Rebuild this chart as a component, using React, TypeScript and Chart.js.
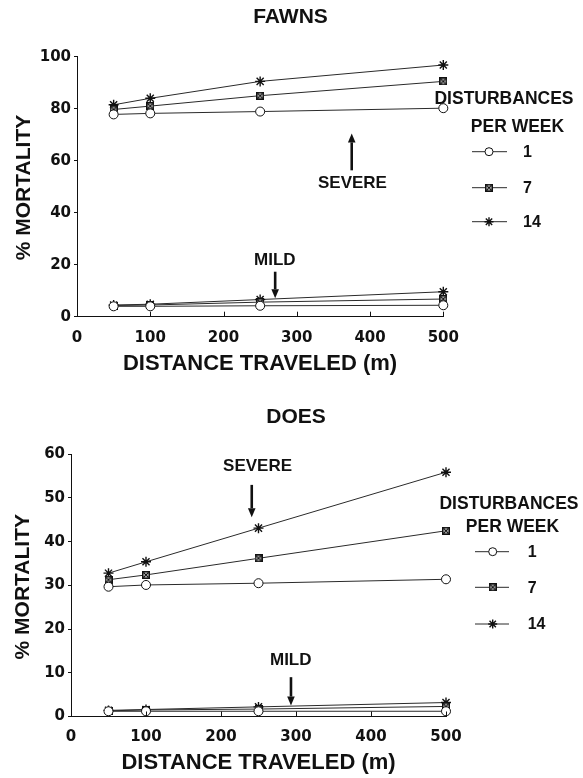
import React, { useEffect, useRef } from 'react';
import { Chart, registerables } from 'chart.js';

Chart.register(...registerables);

// ---------- data ----------
const distances = [50, 100, 250, 500];
const xTickValues = [0, 100, 200, 300, 400, 500];
const legendLabels = ['1', '7', '14'];

const fawnsSevere1 = [77.8, 78.2, 78.9, 80.2];
const fawnsSevere7 = [79.7, 81.0, 85.0, 90.5];
const fawnsSevere14 = [81.5, 84.0, 90.5, 96.8];
const fawnsMild1 = [4.0, 4.0, 4.2, 4.4];
const fawnsMild7 = [4.3, 4.5, 5.6, 6.8];
const fawnsMild14 = [4.5, 4.8, 6.6, 9.6];

const doesSevere1 = [29.7, 30.1, 30.5, 31.4];
const doesSevere7 = [31.3, 32.4, 36.2, 42.5];
const doesSevere14 = [32.8, 35.4, 43.1, 55.9];
const doesMild1 = [1.2, 1.2, 1.2, 1.2];
const doesMild7 = [1.3, 1.5, 1.7, 2.3];
const doesMild14 = [1.4, 1.6, 2.2, 3.2];

// ---------- layout / style ----------
const W = 583;
const FONT = '"Liberation Sans", Arial, Helvetica, sans-serif';
const TICKFONT = '"DejaVu Sans", "Liberation Sans", Arial, sans-serif';
const INK = '#111';
const LINE = '#2a2a2a';

const fawnsSpec = {
  title: 'FAWNS',
  height: 390,
  area: { left: 77, right: 443.3, top: 56.7, bottom: 316.7 },
  yMax: 100,
  yStep: 20,
  severe: [fawnsSevere1, fawnsSevere7, fawnsSevere14],
  mild: [fawnsMild1, fawnsMild7, fawnsMild14],
  titleXY: [290.5, 17.5],
  yTitleXY: [24, 187.5],
  xTitleXY: [260, 364],
  legend: { headX: 504, headY: 99.3, subX: 517.5, subY: 126.7, x1: 472, x2: 507, mx: 489, rows: [151.7, 187.7, 221.7], labelX: 523 },
  notes: [
    { text: 'SEVERE', x: 376, y: 51.2 },
    { text: 'MILD', x: 270, y: 21.7 },
  ],
  arrows: [
    { x: 375, from: 56.3, to: 70.5 },
    { x: 270.5, from: 17.3, to: 7.1 },
  ],
};

const doesSpec = {
  title: 'DOES',
  height: 388,
  area: { left: 71, right: 446, top: 64.3, bottom: 326.5 },
  yMax: 60,
  yStep: 10,
  severe: [doesSevere1, doesSevere7, doesSevere14],
  mild: [doesMild1, doesMild7, doesMild14],
  titleXY: [296, 27],
  yTitleXY: [23, 196.7],
  xTitleXY: [258.5, 373.3],
  legend: { headX: 509, headY: 114, subX: 512.5, subY: 136.7, x1: 475, x2: 509, mx: 492.7, rows: [161.7, 197.3, 234], labelX: 527.7 },
  notes: [
    { text: 'SEVERE', x: 248.7, y: 57.2 },
    { text: 'MILD', x: 293, y: 12.9 },
  ],
  arrows: [
    { x: 241, from: 53, to: 45.6 },
    { x: 293.3, from: 9, to: 2.5 },
  ],
};

function makeBoxX(size: number) {
  const c = document.createElement('canvas');
  c.width = size;
  c.height = size;
  const ctx = c.getContext('2d')!;
  ctx.fillStyle = '#fff';
  ctx.fillRect(0, 0, size, size);
  ctx.strokeStyle = INK;
  ctx.lineWidth = 1.6;
  ctx.strokeRect(0.8, 0.8, size - 1.6, size - 1.6);
  ctx.lineWidth = 1.2;
  ctx.beginPath();
  ctx.moveTo(1.5, 1.5);
  ctx.lineTo(size - 1.5, size - 1.5);
  ctx.moveTo(size - 1.5, 1.5);
  ctx.lineTo(1.5, size - 1.5);
  ctx.stroke();
  return c;
}

function drawStar(ctx: CanvasRenderingContext2D, x: number, y: number, r: number) {
  ctx.beginPath();
  for (let i = 0; i < 4; i++) {
    const a = (i * Math.PI) / 4;
    ctx.moveTo(x + Math.cos(a) * r, y + Math.sin(a) * r);
    ctx.lineTo(x - Math.cos(a) * r, y - Math.sin(a) * r);
  }
  ctx.stroke();
}

function buildConfig(spec: any) {
  const box = makeBoxX(8);
  const styles = [
    { pointStyle: 'circle', pointRadius: 4.5, pointBorderWidth: 1 },
    { pointStyle: box, pointRadius: 4, pointBorderWidth: 1 },
    { pointStyle: 'star', pointRadius: 5, pointBorderWidth: 1.4 },
  ];
  const datasets: any[] = [];
  ['severe', 'mild'].forEach((grp) => {
    spec[grp].forEach((vals: number[], i: number) => {
      datasets.push({
        label: legendLabels[i] + ' ' + grp,
        data: distances.map((d, k) => ({ x: d, y: vals[k] })),
        borderColor: LINE,
        borderWidth: 1,
        backgroundColor: '#fff',
        pointBackgroundColor: '#fff',
        pointBorderColor: INK,
        clip: false,
        ...styles[i],
      });
    });
  });

  const a = spec.area;
  const H = spec.height;

  const decor = {
    id: 'decor',
    afterDraw(chart: any) {
      const ctx: CanvasRenderingContext2D = chart.ctx;
      const xs = chart.scales.x;
      const ys = chart.scales.y;
      ctx.save();
      ctx.fillStyle = INK;
      ctx.strokeStyle = INK;
      ctx.textAlign = 'center';
      ctx.textBaseline = 'middle';

      // inward x ticks
      ctx.lineWidth = 1;
      ctx.beginPath();
      xTickValues.forEach((v) => {
        if (v === 0) return;
        const px = Math.round(xs.getPixelForValue(v)) + 0.5;
        ctx.moveTo(px, ys.bottom);
        ctx.lineTo(px, ys.bottom - 5);
      });
      ctx.stroke();

      // title
      ctx.font = `bold 21px ${FONT}`;
      ctx.fillText(spec.title, spec.titleXY[0], spec.titleXY[1]);

      // axis titles
      ctx.font = `bold 22px ${FONT}`;
      ctx.fillText('DISTANCE TRAVELED (m)', spec.xTitleXY[0], spec.xTitleXY[1]);
      ctx.font = `bold 21px ${FONT}`;
      ctx.save();
      ctx.translate(spec.yTitleXY[0], spec.yTitleXY[1]);
      ctx.rotate(-Math.PI / 2);
      ctx.fillText('% MORTALITY', 0, 0);
      ctx.restore();

      // annotations
      ctx.font = `bold 17px ${FONT}`;
      spec.notes.forEach((n: any) => {
        ctx.fillText(n.text, xs.getPixelForValue(n.x), ys.getPixelForValue(n.y));
      });
      spec.arrows.forEach((ar: any) => {
        const px = xs.getPixelForValue(ar.x);
        const yTail = ys.getPixelForValue(ar.from);
        const yTip = ys.getPixelForValue(ar.to);
        const dir = yTip > yTail ? 1 : -1;
        const head = 9;
        ctx.lineWidth = 2.6;
        ctx.beginPath();
        ctx.moveTo(px, yTail);
        ctx.lineTo(px, yTip - dir * head);
        ctx.stroke();
        ctx.beginPath();
        ctx.moveTo(px, yTip);
        ctx.lineTo(px - 3.8, yTip - dir * head);
        ctx.lineTo(px + 3.8, yTip - dir * head);
        ctx.closePath();
        ctx.fill();
      });

      // legend
      const L = spec.legend;
      ctx.font = `bold 17.5px ${FONT}`;
      ctx.fillText('DISTURBANCES', L.headX, L.headY);
      ctx.fillText('PER WEEK', L.subX, L.subY);
      ctx.font = `bold 16px ${FONT}`;
      L.rows.forEach((ry: number, i: number) => {
        ctx.strokeStyle = LINE;
        ctx.lineWidth = 1;
        ctx.beginPath();
        ctx.moveTo(L.x1, ry);
        ctx.lineTo(L.x2, ry);
        ctx.stroke();
        ctx.strokeStyle = INK;
        if (i === 0) {
          ctx.fillStyle = '#fff';
          ctx.beginPath();
          ctx.arc(L.mx, ry, 4, 0, Math.PI * 2);
          ctx.fill();
          ctx.stroke();
        } else if (i === 1) {
          ctx.drawImage(box, L.mx - 4, ry - 4);
        } else {
          ctx.lineWidth = 1.4;
          drawStar(ctx, L.mx, ry, 4.5);
        }
        ctx.fillStyle = INK;
        ctx.textAlign = 'left';
        ctx.fillText(legendLabels[i], L.labelX, ry + 1);
        ctx.textAlign = 'center';
      });
      ctx.restore();
    },
  };

  return {
    type: 'line' as const,
    data: { datasets },
    plugins: [decor],
    options: {
      responsive: false,
      animation: false as const,
      devicePixelRatio: 1,
      layout: { padding: { left: 0, top: a.top, right: W - a.right, bottom: 0 } },
      plugins: {
        legend: { display: false },
        tooltip: { enabled: false },
        title: { display: false },
      },
      scales: {
        x: {
          type: 'linear' as const,
          min: 0,
          max: 500,
          afterBuildTicks: (s: any) => {
            s.ticks = xTickValues.map((v) => ({ value: v }));
          },
          grid: { display: false, drawTicks: false, tickLength: 0 },
          border: { display: true, color: INK, width: 1 },
          ticks: {
            padding: 12,
            maxRotation: 0,
            autoSkip: false,
            color: INK,
            font: { family: TICKFONT, size: 15, weight: 'bold' as const },
          },
          afterFit: (s: any) => {
            s.height = H - a.bottom;
          },
        },
        y: {
          type: 'linear' as const,
          min: 0,
          max: spec.yMax,
          ticks: {
            stepSize: spec.yStep,
            padding: 3,
            color: INK,
            font: { family: TICKFONT, size: 15, weight: 'bold' as const },
          },
          grid: { display: true, drawOnChartArea: false, drawTicks: true, tickLength: 3, color: INK },
          border: { display: true, color: INK, width: 1 },
          afterFit: (s: any) => {
            s.width = a.left;
          },
        },
      },
    },
  };
}

function Panel({ spec }: { spec: any }) {
  const ref = useRef<HTMLCanvasElement>(null);
  useEffect(() => {
    if (!ref.current) return;
    const chart = new Chart(ref.current, buildConfig(spec) as any);
    return () => chart.destroy();
  }, [spec]);
  return (
    <canvas
      ref={ref}
      width={W}
      height={spec.height}
      style={{ display: 'block', width: W, height: spec.height }}
    />
  );
}

export default function App() {
  return (
    <div style={{ position: 'absolute', left: 0, top: 0, width: W, height: 778, background: '#fff' }}>
      <Panel spec={fawnsSpec} />
      <Panel spec={doesSpec} />
    </div>
  );
}
